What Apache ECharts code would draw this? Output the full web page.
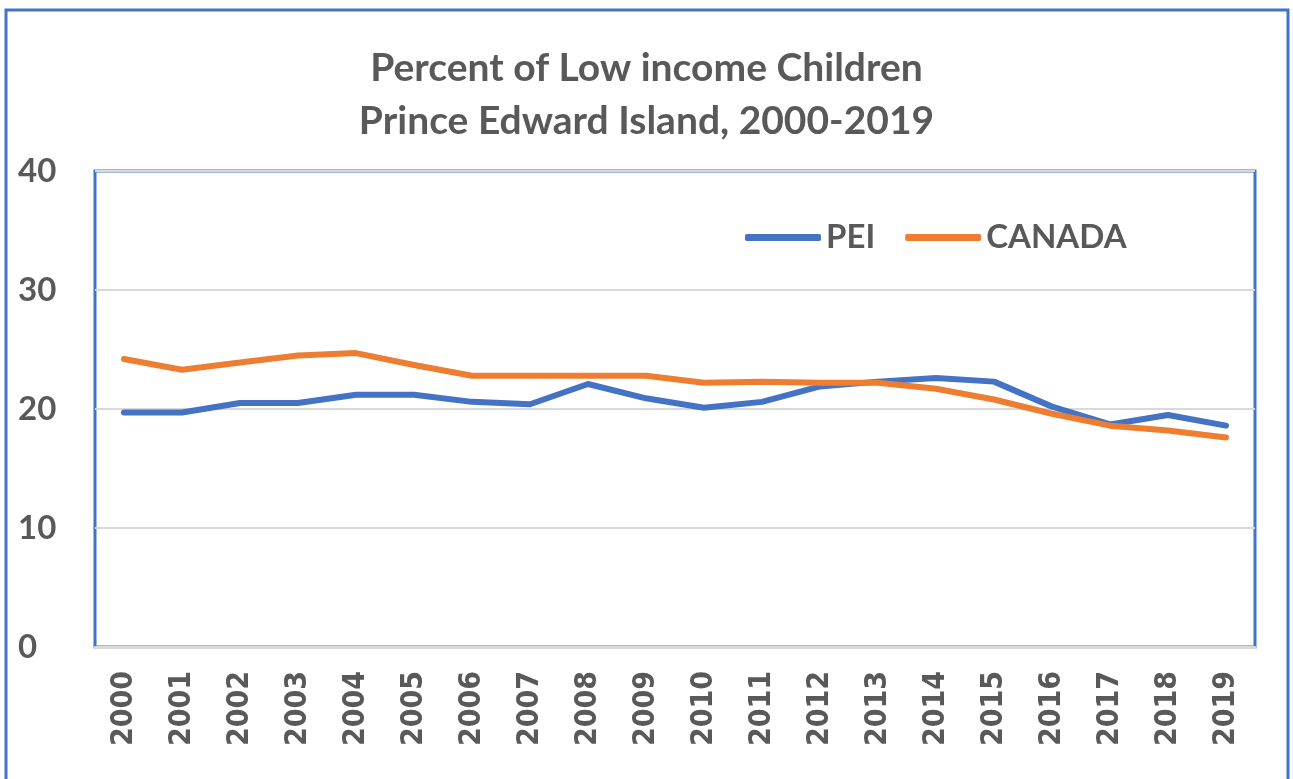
<!DOCTYPE html>
<html>
<head>
<meta charset="utf-8">
<script src="https://cdn.jsdelivr.net/npm/echarts@6/dist/echarts.min.js"></script>
<style>
html,body{margin:0;padding:0;background:#fff;}
#chart{width:1293px;height:779px;}
</style>
</head>
<body>
<div id="chart"></div>
<script>
const titleLines = ["Percent of Low income Children", "Prince Edward Island, 2000-2019"];
const years = ["2000","2001","2002","2003","2004","2005","2006","2007","2008","2009","2010","2011","2012","2013","2014","2015","2016","2017","2018","2019"];
const peiValues = [19.7,19.7,20.5,20.5,21.2,21.2,20.6,20.4,22.1,20.9,20.1,20.6,21.9,22.3,22.6,22.3,20.2,18.7,19.5,18.6];
const canadaValues = [24.2,23.3,23.9,24.5,24.7,23.7,22.8,22.8,22.8,22.8,22.2,22.3,22.2,22.2,21.7,20.8,19.6,18.6,18.2,17.6];
const seriesNames = ["PEI","CANADA"];
const yTicks = {min:0, max:40, interval:10};

const chart = echarts.init(document.getElementById('chart'));
const textColor = '#595959';
chart.setOption({
  animation:false,
  backgroundColor:'#ffffff',
  title:{
    text: titleLines.join('\n'),
    left:'center', top:37,
    textStyle:{fontFamily:'Lato', fontWeight:'bold', fontSize:39, color:textColor, lineHeight:53}
  },
  legend:{
    left:740, top:216,
    itemWidth:76, itemHeight:7, itemGap:30,
    icon:'roundRect',
    textStyle:{fontFamily:'Lato', fontWeight:'bold', fontSize:33, color:textColor, padding:[0,0,0,0]},
    data: seriesNames
  },
  graphic:[{
    type:'rect', shape:{x:6,y:10,width:1282,height:800},
    style:{fill:'none', stroke:'#4472C4', lineWidth:3}, z:100
  }],
  grid:{
    left:95, right:38, top:171, bottom:132,
    show:true, borderColor:'#4472C4', borderWidth:3, backgroundColor:'#fff'
  },
  xAxis:{
    type:'category', data:years, boundaryGap:true,
    axisLine:{show:true, lineStyle:{color:'#d9d9d9', width:3}},
    axisTick:{show:false},
    axisLabel:{rotate:90, margin:24, fontFamily:'DejaVu Sans Condensed, DejaVu Sans', fontWeight:'bold', fontSize:30, color:textColor, interval:0}
  },
  yAxis:{
    type:'value', min:yTicks.min, max:yTicks.max, interval:yTicks.interval,
    axisLine:{show:false}, axisTick:{show:false},
    splitLine:{lineStyle:{color:'#d9d9d9', width:2}},
    axisLabel:{align:'left', margin:77, fontFamily:'Lato', fontWeight:'bold', fontSize:33, color:textColor}
  },
  series:[
    {name:seriesNames[0], type:'line', data:peiValues, symbol:'none', color:'#4472C4',
     lineStyle:{width:6, color:'#4472C4', cap:'round', join:'round'}},
    {name:seriesNames[1], type:'line', data:canadaValues, symbol:'none', color:'#ED7D31',
     lineStyle:{width:6, color:'#ED7D31', cap:'round', join:'round'}}
  ]
});
</script>
</body>
</html>
